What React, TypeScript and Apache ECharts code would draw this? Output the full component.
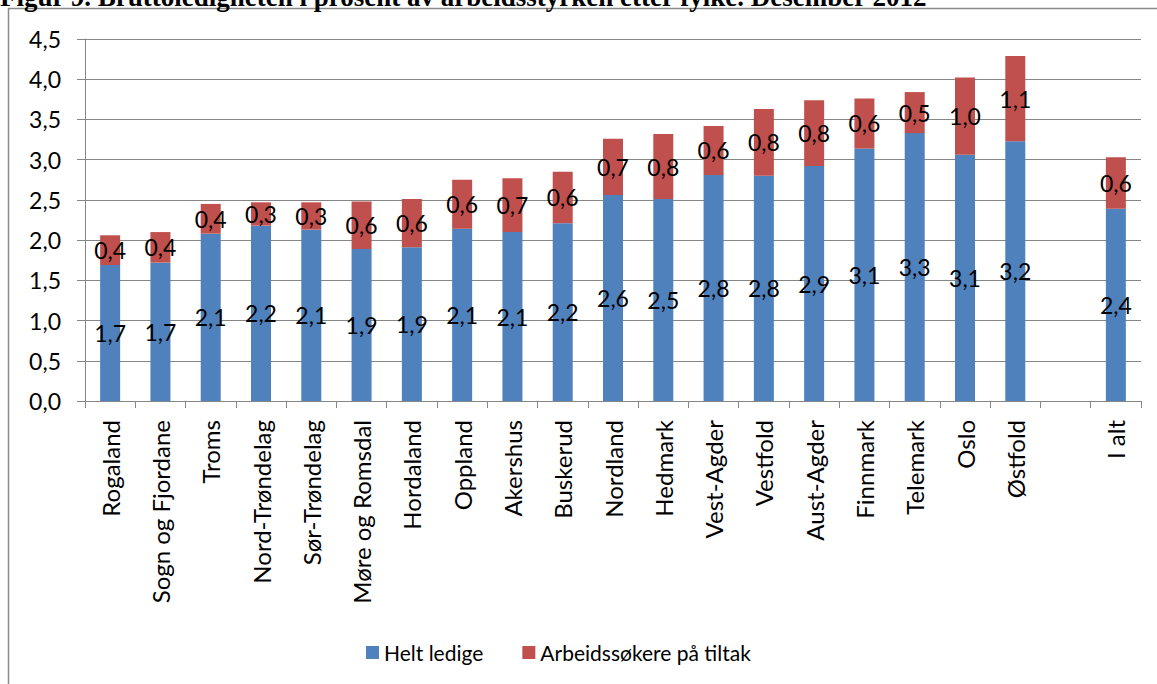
import React, { useEffect, useRef } from "react";
import * as echarts from "echarts";

const titleText = "Figur 9. Bruttoledigheten i prosent av arbeidsstyrken etter fylke. Desember 2012";
const categories = [
  "Rogaland", "Sogn og Fjordane", "Troms", "Nord-Trøndelag", "Sør-Trøndelag",
  "Møre og Romsdal", "Hordaland", "Oppland", "Akershus", "Buskerud", "Nordland",
  "Hedmark", "Vest-Agder", "Vestfold", "Aust-Agder", "Finnmark", "Telemark",
  "Oslo", "Østfold", "", "I alt",
];
const heltLedige = [1.69, 1.72, 2.08, 2.18, 2.13, 1.89, 1.91, 2.14, 2.10, 2.21, 2.56, 2.51, 2.81, 2.80, 2.92, 3.14, 3.33, 3.06, 3.23, null, 2.39];
const tiltak = [0.37, 0.38, 0.37, 0.29, 0.34, 0.59, 0.60, 0.61, 0.67, 0.64, 0.70, 0.81, 0.61, 0.83, 0.82, 0.62, 0.51, 0.96, 1.06, null, 0.64];
const seriesNames = ["Helt ledige", "Arbeidssøkere på tiltak"];
const yMin = 0;
const yMax = 4.5;
const yInterval = 0.5;

const FONT = "Lato";
const fmt = (v: number) => v.toFixed(1).replace(".", ",");

export default function App() {
  const ref = useRef<HTMLDivElement>(null);
  useEffect(() => {
    if (!ref.current) return;
    const chart = echarts.init(ref.current, null, { renderer: "svg" });
    const labelCfg = {
      show: true,
      position: "inside",
      color: "#000",
      fontFamily: FONT,
      fontSize: 23,
      formatter: (p: any) => (p.value == null ? "" : fmt(p.value)),
    };
    chart.setOption({
      animation: false,
      textStyle: { fontFamily: FONT },
      graphic: [
        {
          type: "rect",
          shape: { x: 8.5, y: 8.5, width: 2000, height: 2000 },
          style: { fill: "none", stroke: "#8a8a8a", lineWidth: 1.5 },
          silent: true,
          z: -1,
        },
        {
          type: "text",
          x: 0,
          y: 10,
          style: {
            text: titleText,
            fontFamily: "Liberation Serif",
            fontWeight: "bold",
            fontSize: 27,
            fill: "#000",
            textVerticalAlign: "bottom",
            verticalAlign: "bottom",
          },
        },
      ],
      grid: { left: 85, right: 16, top: 39, bottom: 283, outerBoundsMode: "none", containLabel: false },
      legend: {
        left: 361,
        top: 637,
        itemWidth: 13,
        itemHeight: 13,
        itemGap: 39,
        icon: "rect",
        textStyle: { fontFamily: FONT, fontSize: 21, color: "#000" },
        data: seriesNames,
      },
      xAxis: {
        type: "category",
        data: categories,
        boundaryGap: true,
        axisLine: { lineStyle: { color: "#868686", width: 1 } },
        axisTick: { show: true, length: 7, alignWithLabel: false, lineStyle: { color: "#868686" } },
        axisLabel: { rotate: 90, margin: 19, interval: 0, color: "#000", fontFamily: FONT, fontSize: 24 },
      },
      yAxis: {
        type: "value",
        min: yMin,
        max: yMax,
        interval: yInterval,
        axisLine: { show: true, lineStyle: { color: "#868686", width: 1 } },
        axisTick: { show: true, length: 8, lineStyle: { color: "#868686" } },
        splitLine: { show: true, lineStyle: { color: "#868686", width: 1 } },
        axisLabel: { margin: 24, color: "#000", fontFamily: FONT, fontSize: 23, formatter: (v: number) => fmt(v) },
      },
      series: [
        {
          name: seriesNames[0],
          type: "bar",
          stack: "total",
          barWidth: 20,
          data: heltLedige,
          itemStyle: { color: "#4F81BD" },
          label: labelCfg,
        },
        {
          name: seriesNames[1],
          type: "bar",
          stack: "total",
          barWidth: 20,
          data: tiltak,
          itemStyle: { color: "#C0504D" },
          label: labelCfg,
        },
      ],
    });
    return () => chart.dispose();
  }, []);
  return (
    <div
      ref={ref}
      style={{ position: "fixed", left: 0, top: 0, width: 1157, height: 684, background: "#fff" }}
    />
  );
}
